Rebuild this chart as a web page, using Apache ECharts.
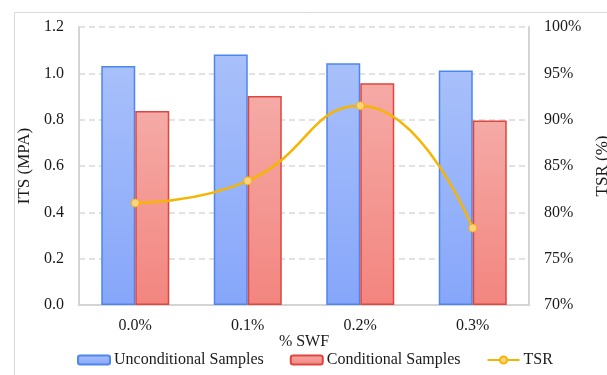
<!DOCTYPE html>
<html>
<head>
<meta charset="utf-8">
<script src="https://cdn.jsdelivr.net/npm/echarts@6/dist/echarts.min.js"></script>
<style>
  html, body { margin: 0; padding: 0; background: #fff; }
  #chart { width: 607px; height: 375px; }
</style>
</head>
<body>
<div id="chart"></div>
<script>
// % SWF content
const categories = ['0.0%', '0.1%', '0.2%', '0.3%'];
// Indirect tensile strength (MPa)
const unconditional = [1.032, 1.081, 1.043, 1.012];
const conditional = [0.837, 0.902, 0.957, 0.796];
// Tensile strength ratio (%)
const tsr = [81.0, 83.4, 91.5, 78.3];

const serif = "'Liberation Serif', 'Times New Roman', serif";
const textColor = '#1a1a1a';
const frameColor = '#d4d4d4';

const chart = echarts.init(document.getElementById('chart'));

chart.setOption({
  animation: false,
  textStyle: { fontFamily: serif, color: textColor },
  graphic: [{
    type: 'rect',
    left: 12, top: 10,
    shape: { width: 620, height: 400 },
    style: { fill: 'none', stroke: '#d9d9d9', lineWidth: 1 },
    silent: true
  }],
  grid: { left: 79, right: 78, top: 27, bottom: 70, outerBoundsMode: 'none', containLabel: false },
  legend: {
    left: 77, top: 352, padding: 0,
    itemWidth: 32, itemHeight: 9, itemGap: 26,
    textStyle: { fontFamily: serif, fontSize: 16, color: textColor, padding: [0, 0, 0, -1] },
    data: ['Unconditional Samples', 'Conditional Samples', 'TSR']
  },
  xAxis: {
    type: 'category',
    data: categories,
    name: '% SWF',
    nameLocation: 'middle',
    nameGap: 29,
    nameMoveOverlap: false,
    nameTextStyle: { fontFamily: serif, fontSize: 16, color: textColor },
    axisLine: { show: true, lineStyle: { color: frameColor, width: 2 } },
    axisTick: { show: false },
    axisLabel: { fontFamily: serif, fontSize: 16, color: textColor, margin: 13 }
  },
  yAxis: [{
    type: 'value',
    min: 0, max: 1.2, interval: 0.2,
    name: 'ITS (MPA)',
    nameLocation: 'middle',
    nameGap: 46,
    nameMoveOverlap: false,
    nameRotate: 90,
    nameTextStyle: { fontFamily: serif, fontSize: 17, color: textColor },
    axisLine: { show: true, lineStyle: { color: frameColor, width: 2 } },
    axisTick: { show: false },
    axisLabel: {
      fontFamily: serif, fontSize: 16, color: textColor, margin: 15,
      formatter: v => v.toFixed(1)
    },
    splitLine: { show: true, lineStyle: { color: '#d9d9d9', type: [6, 4], width: 1.5 } }
  }, {
    type: 'value',
    min: 70, max: 100, interval: 5,
    name: 'TSR (%)',
    nameLocation: 'middle',
    nameGap: 65,
    nameMoveOverlap: false,
    nameRotate: 90,
    nameTextStyle: { fontFamily: serif, fontSize: 17, color: textColor },
    axisLine: { show: true, lineStyle: { color: frameColor, width: 2 } },
    axisTick: { show: false },
    axisLabel: {
      fontFamily: serif, fontSize: 16, color: textColor, margin: 15,
      formatter: '{value}%'
    },
    splitLine: { show: false }
  }],
  series: [{
    name: 'Unconditional Samples',
    type: 'bar',
    data: unconditional,
    barWidth: 34,
    barGap: '0%',
    itemStyle: {
      color: new echarts.graphic.LinearGradient(0, 0, 0, 1, [
        { offset: 0, color: '#a8c0fa' },
        { offset: 1, color: '#86a6fa' }
      ]),
      borderColor: '#4c86ee',
      borderWidth: 1.5
    }
  }, {
    name: 'Conditional Samples',
    type: 'bar',
    data: conditional,
    barWidth: 34,
    itemStyle: {
      color: new echarts.graphic.LinearGradient(0, 0, 0, 1, [
        { offset: 0, color: '#f5aaa6' },
        { offset: 1, color: '#f3857f' }
      ]),
      borderColor: '#e0453f',
      borderWidth: 1.5
    }
  }, {
    name: 'TSR',
    type: 'line',
    yAxisIndex: 1,
    data: tsr,
    smooth: 0.5,
    symbol: 'circle',
    symbolSize: 8,
    z: 5,
    lineStyle: { color: '#f6b500', width: 2.5 },
    itemStyle: { color: '#fbd283', borderColor: '#f6b500', borderWidth: 1 }
  }]
});
</script>
</body>
</html>
